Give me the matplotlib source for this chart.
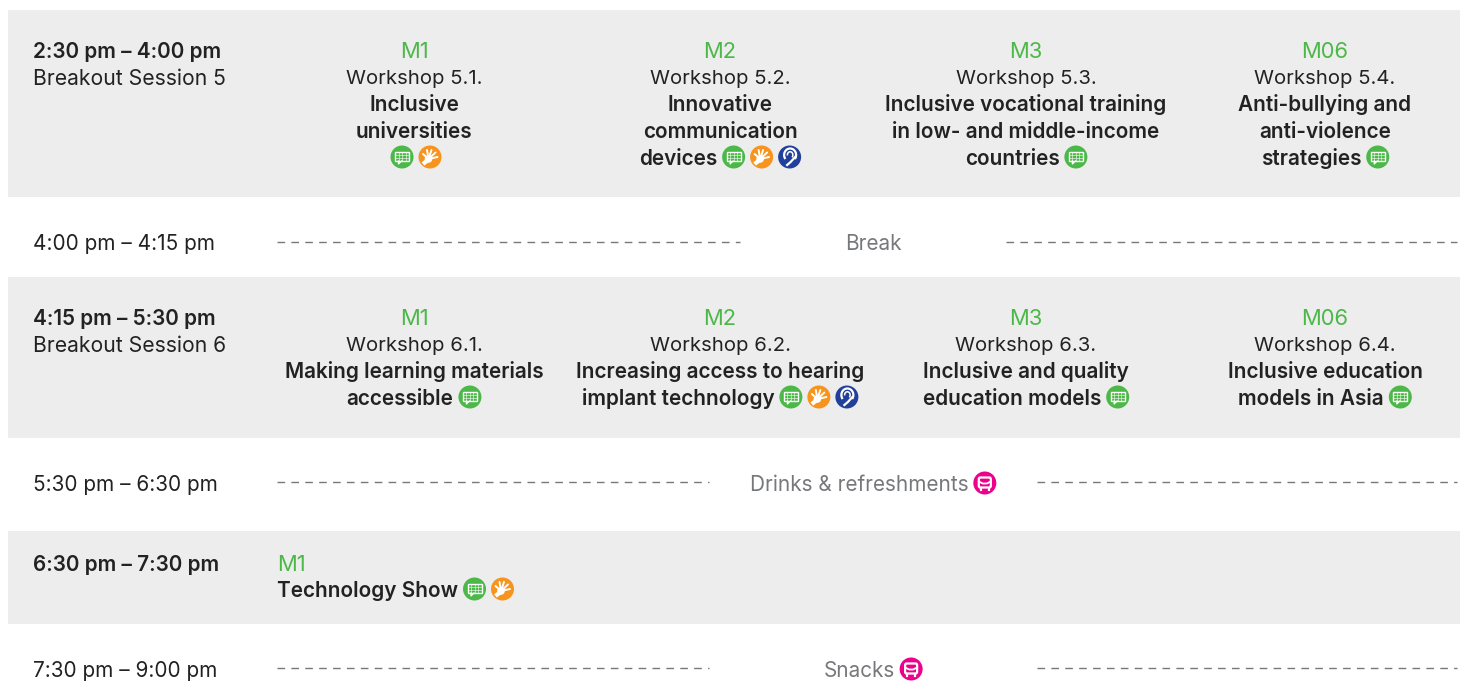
import matplotlib
matplotlib.use("Agg")
import matplotlib.pyplot as plt
from matplotlib.patches import Circle, Rectangle, Arc, FancyBboxPatch

plt.rcParams['font.family'] = ['Inter', 'DejaVu Sans']

GREEN = '#4cb848'
ORANGE = '#f7941d'
BLUE = '#21409a'
PINK = '#ec008c'
BAND = '#ededed'
DARK = '#222222'
GREY = '#77787b'
SIZE = 14.95
BASE_DY = 8  # baseline offset from the middle of a line

rooms = ['M1', 'M2', 'M3', 'M06']

workshops_5 = ['Workshop 5.1.', 'Workshop 5.2.', 'Workshop 5.3.', 'Workshop 5.4.']
titles_5 = [
    [('Inclusive', ''), ('universities', ''), ('', 'co')],
    [('Innovative', ''), ('communication', ''), ('devices', 'cob')],
    [('Inclusive vocational training', ''), ('in low- and middle-income', ''), ('countries', 'c')],
    [('Anti-bullying and', ''), ('anti-violence', ''), ('strategies', 'c')],
]
workshops_6 = ['Workshop 6.1.', 'Workshop 6.2.', 'Workshop 6.3.', 'Workshop 6.4.']
titles_6 = [
    [('Making learning materials', ''), ('accessible', 'c')],
    [('Increasing access to hearing', ''), ('implant technology', 'cob')],
    [('Inclusive and quality', ''), ('education models', 'c')],
    [('Inclusive education', ''), ('models in Asia', 'c')],
]

fig = plt.figure(figsize=(14.6, 6.82), dpi=100)
ax = fig.add_axes([0, 0, 1, 1])
ax.set_xlim(0, 1460)
ax.set_ylim(682, 0)
ax.axis('off')


def text_width(s, weight, size):
    t = ax.text(0, 0, s, fontsize=size, fontweight=weight)
    w = t.get_window_extent(fig.canvas.get_renderer()).width
    t.remove()
    return w


def chat_icon(x, y):
    ax.add_patch(Circle((x, y), 11.5, color=GREEN, lw=0))
    ax.add_patch(Rectangle((x - 7, y - 5.5), 14, 9.5, fc='none', ec='white', lw=1))
    for dy in (-2.3, 0.8):
        ax.plot([x - 7, x + 7], [y + dy, y + dy], color='white', lw=0.5, alpha=0.8)
    for dx in (-3.5, 0, 3.5):
        ax.plot([x + dx, x + dx], [y - 5.5, y + 4], color='white', lw=0.5, alpha=0.8)
    ax.plot([x - 3.5, x - 3.5, x - 0.5], [y + 4, y + 7, y + 4], color='white', lw=0.9)


def hand_icon(x, y):
    ax.add_patch(Circle((x, y), 11.5, color=ORANGE, lw=0))
    ax.add_patch(Circle((x - 1.5, y + 2), 3.8, color='white', lw=0))
    ax.plot([x - 2, x - 7], [y + 3, y + 7], color='white', lw=3, solid_capstyle='butt')
    for dx, dy in [(-7, -3), (-3, -7), (1.5, -7), (5.5, -4.5), (7.5, 0)]:
        ax.plot([x - 1.5, x + dx], [y + 2, y + dy], color='white', lw=1.4, solid_capstyle='round')


def ear_icon(x, y):
    ax.add_patch(Circle((x, y), 11.5, color=BLUE, lw=0))
    ax.add_patch(Arc((x + 0.5, y - 2), 12, 13, theta1=140, theta2=40, color='white', lw=1.6))
    ax.plot([x + 5.5, x + 1, x - 2.5], [y, y + 5, y + 8], color='white', lw=1.6)
    ax.add_patch(Arc((x + 0.5, y - 2), 5.5, 6.5, theta1=170, theta2=50, color='white', lw=1.1))


def mug_icon(x, y):
    ax.add_patch(Circle((x, y), 11.5, color=PINK, lw=0))
    ax.add_patch(FancyBboxPatch((x - 6, y - 5.5), 12, 10, boxstyle='round,pad=0,rounding_size=1.5',
                                fc='none', ec='white', lw=1.6))
    ax.plot([x - 6, x - 2, x + 2, x + 6], [y - 1.5, y + 0.5, y + 0.5, y - 1.5], color='white', lw=1.3)
    ax.plot([x - 4, x - 4], [y + 4.5, y + 6.5], color='white', lw=1.6)
    ax.plot([x + 4, x + 4], [y + 4.5, y + 6.5], color='white', lw=1.6)


icon_funcs = {'c': chat_icon, 'o': hand_icon, 'b': ear_icon, 'm': mug_icon}


def icon_line(s, icons, x, y, weight='semibold', color=DARK, center=True):
    # text followed by round icons, the whole group centred on x
    w = text_width(s, weight, SIZE) if s else 0
    gap = 5 if s and icons else 0
    total = w + gap + 23 * len(icons) + 5 * max(len(icons) - 1, 0)
    left = x - total / 2 if center else x
    if s:
        ax.text(left, y + BASE_DY, s, fontsize=SIZE, fontweight=weight, color=color, ha='left', va='baseline')
    else:
        left += 2
    for i, ic in enumerate(icons):
        icon_funcs[ic](left + w + gap + 11.5 + 28 * i, y)


def time_label(y, s, sub=None, bold=False):
    ax.text(33, y + BASE_DY, s, fontsize=SIZE if bold else 14.95, color=DARK, va='baseline',
            fontweight='semibold' if bold else 'normal')
    if sub:
        ax.text(33, y + 27 + BASE_DY, sub, fontsize=15.2, color=DARK, va='baseline')


def session_row(y0, workshops, titles):
    for cx, room, ws, lines in zip([414, 720, 1026, 1325], rooms, workshops, titles):
        ax.text(cx, y0 + BASE_DY, room, fontsize=15.8, color=GREEN, ha='center', va='baseline')
        ax.text(cx, y0 + 26 + BASE_DY, ws, fontsize=14.6, color=DARK, ha='center', va='baseline')
        for i, (s, icons) in enumerate(lines):
            icon_line(s, icons, cx, y0 + 53 + 27 * i)


def dashed_row(y, dash_y, label, icons, x1, x2):
    ax.plot([277, x1], [dash_y, dash_y], color=GREY, lw=1, dashes=(5.5, 4.5))
    ax.plot([x2, 1457], [dash_y, dash_y], color=GREY, lw=1, dashes=(5.5, 4.5))
    icon_line(label, icons, 873, y, weight='normal', color=GREY)


for y1, y2 in [(10, 197), (277, 438), (531, 624)]:
    ax.add_patch(Rectangle((8, y1), 1452, y2 - y1, color=BAND, lw=0, zorder=0))

time_label(50, '2:30 pm – 4:00 pm', 'Breakout Session 5', bold=True)
session_row(50, workshops_5, titles_5)

time_label(242, '4:00 pm – 4:15 pm')
dashed_row(242, 242, 'Break', '', 740, 1006)

time_label(317, '4:15 pm – 5:30 pm', 'Breakout Session 6', bold=True)
session_row(317, workshops_6, titles_6)

time_label(483, '5:30 pm – 6:30 pm')
dashed_row(483, 482, 'Drinks & refreshments', 'm', 709, 1037)

time_label(563, '6:30 pm – 7:30 pm', bold=True)
ax.text(277, 563 + BASE_DY, 'M1', fontsize=15.8, color=GREEN, va='baseline')
icon_line('Technology Show', 'co', 277, 589, center=False)

time_label(669, '7:30 pm – 9:00 pm')
dashed_row(669, 668, 'Snacks', 'm', 709, 1037)

fig.savefig('out.png', dpi=100, facecolor='white')
